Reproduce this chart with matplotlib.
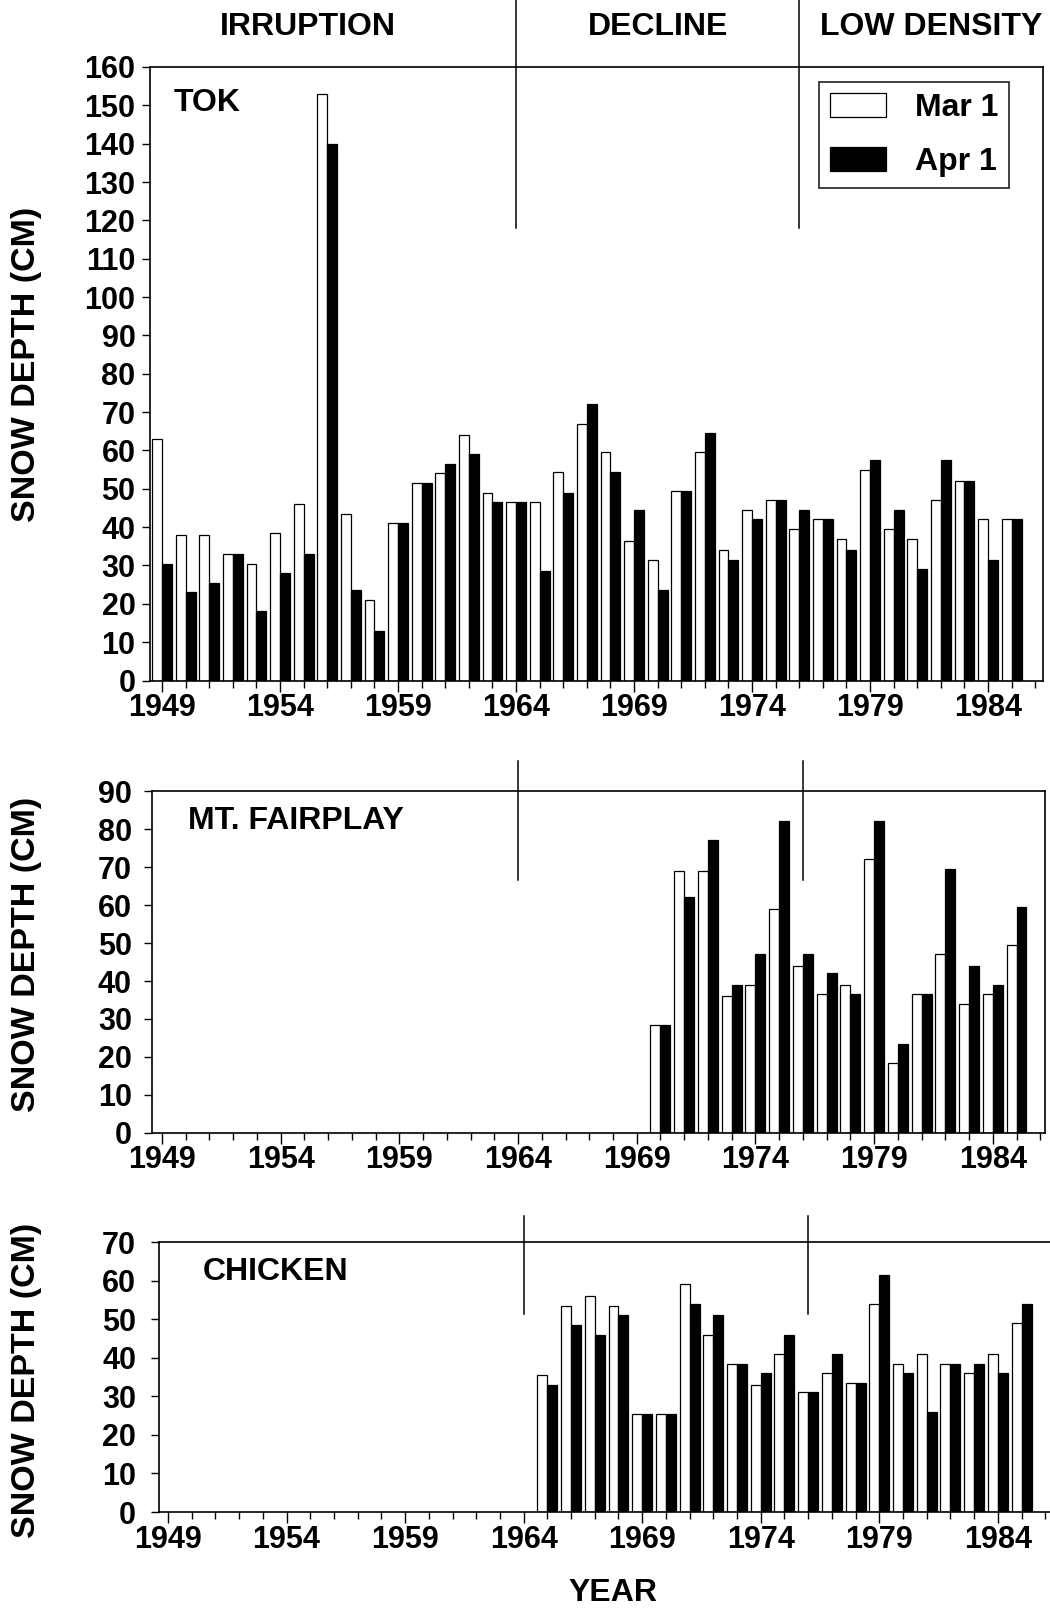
"""Snow depth at Tok, Mt. Fairplay and Chicken, Mar 1 vs Apr 1."""

import matplotlib

matplotlib.use("Agg")
import matplotlib.pyplot as plt
from matplotlib.ticker import FixedLocator, MultipleLocator
import matplotlib.transforms as mtransforms
import numpy as np

plt.rcParams["font.family"] = ["Liberation Sans", "DejaVu Sans"]
plt.rcParams["font.weight"] = "bold"

W, H = 1050, 1609
FS = 23
TICK_FS = 22
YLAB_FS = 24.5

TOK_YEARS = list(range(1949, 1986))
TOK_MAR = [63, 38, 38, 33, 30.5, 38.5, 46, 153, 43.5, 21, 41, 51.5, 54, 64, 49, 46.5,
           46.5, 54.5, 67, 59.5, 36.5, 31.5, 49.5, 59.5, 34, 44.5, 47, 39.5, 42, 37,
           55, 39.5, 37, 47, 52, 42, 42]
TOK_APR = [30.5, 23, 25.5, 33, 18, 28, 33, 140, 23.5, 13, 41, 51.5, 56.5, 59, 46.5, 46.5,
           28.5, 49, 72, 54.5, 44.5, 23.5, 49.5, 64.5, 31.5, 42, 47, 44.5, 42, 34,
           57.5, 44.5, 29, 57.5, 52, 31.5, 42]

FAIRPLAY_YEARS = list(range(1970, 1986))
FAIRPLAY_MAR = [28.5, 69, 69, 36, 39, 59, 44, 36.5, 39, 72, 18.5, 36.5, 47, 34, 36.5, 49.5]
FAIRPLAY_APR = [28.5, 62, 77, 39, 47, 82, 47, 42, 36.5, 82, 23.5, 36.5, 69.5, 44, 39, 59.5]

CHICKEN_YEARS = list(range(1965, 1986))
CHICKEN_MAR = [35.5, 53.5, 56, 53.5, 25.5, 25.5, 59, 46, 38.5, 33, 41, 31, 36, 33.5,
               54, 38.5, 41, 38.5, 36, 41, 49]
CHICKEN_APR = [33, 48.5, 46, 51, 25.5, 25.5, 54, 51, 38.5, 36, 46, 31, 41, 33.5,
               61.5, 36, 26, 38.5, 38.5, 36, 54]

PHASES = ["IRRUPTION", "DECLINE", "LOW DENSITY"]
PHASE_X = [1955.2, 1970, 1981.6]
PHASE_BREAKS = [1964, 1976]
LABEL_YEARS = list(range(1949, 1985, 5))

BAR_W = 0.42


def px_axes(fig, left, top, right, bottom):
    return fig.add_axes([left / W, 1 - bottom / H, (right - left) / W, (bottom - top) / H])


def draw_panel(ax, years, mar, apr, ymax, xlim, name, name_xy, breaks_y, ypad, right_spine=True):
    years = np.asarray(years)
    b1 = ax.bar(years - BAR_W / 2, mar, BAR_W, color="white", edgecolor="black", linewidth=0.9, label="Mar 1")
    b2 = ax.bar(years + BAR_W / 2, apr, BAR_W, color="black", edgecolor="black", linewidth=0.9, label="Apr 1")
    ax.set_xlim(*xlim)
    ax.set_ylim(0, ymax)
    ax.yaxis.set_major_locator(MultipleLocator(10))
    ax.xaxis.set_major_locator(FixedLocator(LABEL_YEARS))
    ax.xaxis.set_minor_locator(FixedLocator(range(1949, 1987)))
    ax.set_xticklabels([str(y) for y in LABEL_YEARS])
    ax.tick_params(axis="y", direction="out", length=6, width=1, pad=ypad, labelsize=TICK_FS)
    ax.tick_params(axis="x", which="major", direction="out", length=8, width=1, pad=1, labelsize=TICK_FS)
    ax.tick_params(axis="x", which="minor", direction="out", length=5, width=1)
    for side in ax.spines.values():
        side.set_linewidth(1.2)
    ax.spines["right"].set_visible(right_spine)
    for lab in ax.get_xticklabels() + ax.get_yticklabels():
        lab.set_fontweight("bold")
    ax.text(name_xy[0], name_xy[1], name, transform=ax.transAxes, fontsize=FS,
            fontweight="bold", ha="left", va="center")
    for xb in PHASE_BREAKS:
        ax.axvline(xb, ymin=breaks_y[0], ymax=breaks_y[1], color="black", linewidth=1.1, clip_on=False)
    return b1, b2


fig = plt.figure(figsize=(W / 100, H / 100), dpi=100)

ax1 = px_axes(fig, 150, 67, 1043, 680.5)
ax2 = px_axes(fig, 152, 791, 1045, 1133)
ax3 = px_axes(fig, 159, 1242, 1050, 1512)

b1, b2 = draw_panel(ax1, TOK_YEARS, TOK_MAR, TOK_APR, 160, (1948.49, 1986.33), "TOK",
                    ((174 - 150) / 893, (680.5 - 103) / 613.5), (0.7376, 1.109), 4.5)
draw_panel(ax2, FAIRPLAY_YEARS, FAIRPLAY_MAR, FAIRPLAY_APR, 90, (1948.58, 1986.2), "MT. FAIRPLAY",
           ((188 - 152) / 893, (1133 - 821) / 342), (0.739, 1.087), 8.5)
draw_panel(ax3, CHICKEN_YEARS, CHICKEN_MAR, CHICKEN_APR, 70, (1948.62, 1986.2), "CHICKEN",
           ((203 - 159) / 891, (1512 - 1272) / 270), (0.733, 1.096), 10.5, right_spine=False)

leg = ax1.legend(handles=[b1, b2], loc="upper right", bbox_to_anchor=(0.962, 0.9756),
                 borderaxespad=0, frameon=True, fancybox=False, edgecolor="black",
                 handlelength=1.75, handleheight=0.75, labelspacing=0.75,
                 borderpad=0.35, handletextpad=0.9, prop={"weight": "bold", "size": FS})
leg.get_frame().set_linewidth(1.3)

trans = mtransforms.blended_transform_factory(ax1.transData, ax1.transAxes)
for name, xp in zip(PHASES, PHASE_X):
    ax1.text(xp, 1.065, name, transform=trans, ha="center", va="center", fontsize=FS, fontweight="bold")

for yc in [364, 954, 1380]:
    fig.text(27 / W, 1 - yc / H, "SNOW DEPTH (CM)", rotation=90, ha="center", va="center",
             fontsize=YLAB_FS, fontweight="bold")

fig.text(613 / W, 1 - 1593 / H, "YEAR", ha="center", va="center", fontsize=FS, fontweight="bold")

fig.savefig("out.png", dpi=100)
plt.close(fig)
